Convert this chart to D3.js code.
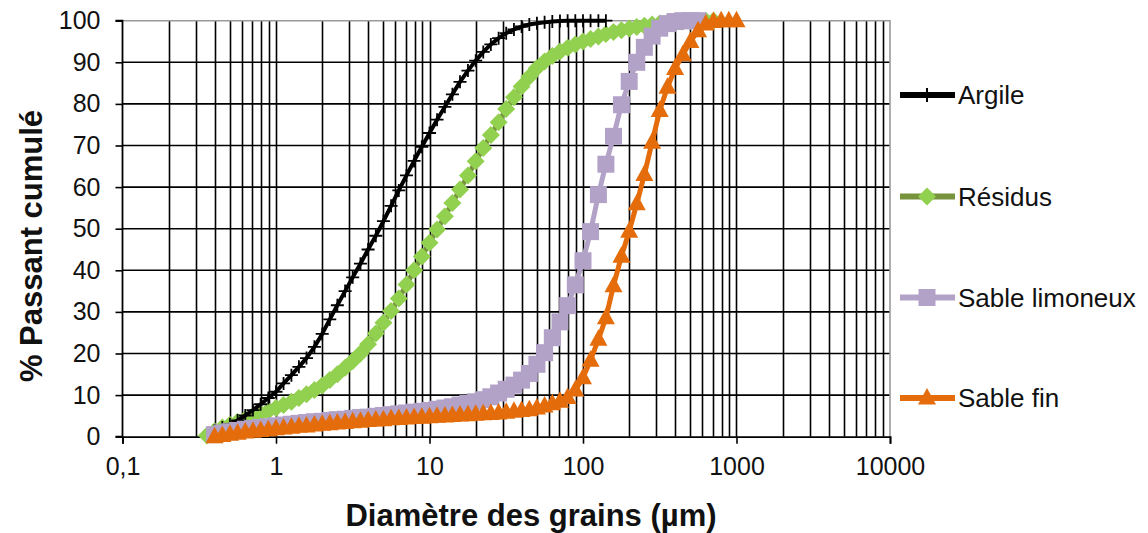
<!DOCTYPE html>
<html>
<head>
<meta charset="utf-8">
<script src="https://cdn.jsdelivr.net/npm/d3@7"></script>
<style>
  html, body { margin: 0; padding: 0; background: #fff; }
  svg { display: block; font-family: "Liberation Sans", Arial, sans-serif; }
</style>
</head>
<body>
<svg id="chart" width="1148" height="533"></svg>
<script>
// Diamètres des classes granulométriques (µm), 20 classes par décade
const diametres = [0.355, 0.398, 0.447, 0.501, 0.562, 0.631, 0.708, 0.794, 0.891,
  1, 1.12, 1.26, 1.41, 1.58, 1.78, 2, 2.24, 2.51, 2.82, 3.16, 3.55, 3.98, 4.47, 5.01,
  5.62, 6.31, 7.08, 7.94, 8.91, 10, 11.2, 12.6, 14.1, 15.8, 17.8, 20, 22.4, 25.1, 28.2,
  31.6, 35.5, 39.8, 44.7, 50.1, 56.2, 63.1, 70.8, 79.4, 89.1, 100, 112, 126, 141, 158,
  178, 200, 224, 251, 282, 316, 355, 398, 447, 501, 562, 631, 708, 794, 891, 1000];

// % passant cumulé pour chaque matériau (null = classe non mesurée)
const argile = [null,
  1.5, 2.2, 3.0, 3.9, 5.1, 6.4, 7.8, 9.3, 10.8, 12.8, 14.8, 16.8, 18.9, 21.6, 24.7,
  28.2, 31.6, 35.0, 38.3, 41.6, 45.0, 48.3, 51.8, 55.5, 59.2, 62.8, 66.3, 69.7, 73.0,
  76.2, 79.3, 82.3, 85.3, 88.0, 90.4, 92.5, 94.3, 95.8, 97.0, 97.9, 98.6, 99.1, 99.4,
  99.6, 99.8, 99.9, 100, 100, 100, 100, 100, 100,
  null, null, null, null, null, null, null, null, null, null, null, null, null, null,
  null, null, null];

const residus = [
  0.3, 1.3, 2.2, 2.9, 3.6, 4.2, 4.9, 5.5, 6.2, 6.9, 7.6, 8.4, 9.3, 10.2, 11.2, 12.3,
  13.6, 15.0, 16.6, 18.2, 20.0, 22.2, 24.8, 27.4, 30.2, 33.2, 36.6, 40.0, 43.3, 46.6,
  49.8, 53.0, 56.2, 59.4, 62.8, 66.2, 69.4, 72.5, 75.6, 78.8, 81.6, 84.2, 86.5, 88.6,
  90.2, 91.5, 92.6, 93.5, 94.3, 95.0, 95.6, 96.2, 96.8, 97.3, 97.7, 98.1, 98.5, 98.8,
  99.1, 99.3, 99.5, 99.7, 99.8, 99.9, 100, 100, 100,
  null, null, null];

const sableLimoneux = [null,
  0.5, 0.9, 1.2, 1.5, 1.8, 2.0, 2.2, 2.4, 2.6, 2.8, 3.0, 3.2, 3.4, 3.6, 3.7, 3.9, 4.1,
  4.2, 4.4, 4.6, 4.7, 4.9, 5.1, 5.3, 5.5, 5.7, 5.9, 6.1, 6.3, 6.6, 6.9, 7.2, 7.6, 8.0,
  8.4, 8.9, 9.6, 10.5, 11.4, 12.4, 13.6, 15.2, 17.4, 20.2, 23.8, 27.6, 31.5, 36.5,
  42.3, 49.3, 58.2, 65.5, 72.2, 79.8, 85.4, 90.0, 93.6, 96.3, 98.2, 99.3, 99.8, 100,
  100, 100,
  null, null, null, null, null];

const sableFin = [null,
  0.0, 0.3, 0.6, 0.8, 1.1, 1.3, 1.5, 1.7, 1.9, 2.1, 2.3, 2.5, 2.6, 2.8, 3.0, 3.1, 3.3,
  3.4, 3.6, 3.7, 3.9, 4.0, 4.1, 4.3, 4.4, 4.5, 4.6, 4.7, 4.8, 4.9, 5.0, 5.1, 5.2, 5.3,
  5.4, 5.5, 5.6, 5.7, 5.9, 6.1, 6.3, 6.5, 6.9, 7.4, 7.9, 8.5, 9.4, 11.2, 14.2, 18.4,
  23.4, 28.6, 36.3, 43.4, 49.4, 56.0, 63.0, 70.8, 78.4, 84.0, 88.5, 91.8, 95.0, 97.6,
  99.2, 99.8, 100, 100, 100];

const yTicks = [0, 10, 20, 30, 40, 50, 60, 70, 80, 90, 100];
const xTicks = [0.1, 1, 10, 100, 1000, 10000];
const xTickLabels = ["0,1", "1", "10", "100", "1000", "10000"];

// Marker shapes (Excel-like)
const markerPaths = {
  plus: "M-6.5,0H6.5M0,-6.5V6.5",
  diamond: "M0,-9L9,0L0,9L-9,0Z",
  square: "M-8.5,-8.5H8.5V8.5H-8.5Z",
  triangle: "M0,-10L9,6.5L-9,6.5Z"
};

const series = [
  { name: "Argile", values: argile, line: "#000000", fill: "#000000", marker: "plus", width: 4, order: 1 },
  { name: "Résidus", values: residus, line: "#77933C", fill: "#92D050", marker: "diamond", width: 5, order: 0 },
  { name: "Sable limoneux", values: sableLimoneux, line: "#B3A2C7", fill: "#B3A2C7", marker: "square", width: 5, order: 2 },
  { name: "Sable fin", values: sableFin, line: "#E46C0A", fill: "#E46C0A", marker: "triangle", width: 5, order: 3 }
];

const plot = { left: 122.5, right: 890, top: 20.7, bottom: 436.7 };
const x = d3.scaleLog().domain([0.1, 10000]).range([plot.left, plot.right]);
const y = d3.scaleLinear().domain([0, 100]).range([plot.bottom, plot.top]);

const svg = d3.select("#chart");

// Grid
const grid = svg.append("g").attr("stroke", "#000").attr("stroke-width", 1.6);
grid.selectAll("line.v")
  .data(x.ticks().filter(d => d > 0.1001 && d < 9999))
  .join("line")
  .attr("x1", d => Math.round(x(d)) + 0.5).attr("x2", d => Math.round(x(d)) + 0.5)
  .attr("y1", plot.top).attr("y2", plot.bottom);
grid.selectAll("line.h")
  .data(yTicks.filter(d => d > 0 && d < 100))
  .join("line")
  .attr("x1", plot.left).attr("x2", plot.right)
  .attr("y1", d => y(d)).attr("y2", d => y(d));

// Top and right border
svg.append("path")
  .attr("d", `M${plot.left},${plot.top}H${plot.right}V${plot.bottom}`)
  .attr("fill", "none").attr("stroke", "#9a9a9a").attr("stroke-width", 1.6);

// Axes
const yAxis = svg.append("g")
  .attr("transform", `translate(${plot.left},0)`)
  .call(d3.axisLeft(y).tickValues(yTicks).tickSize(7).tickPadding(15).tickFormat(d3.format("d")));
const xAxis = svg.append("g")
  .attr("transform", `translate(0,${plot.bottom})`)
  .call(d3.axisBottom(x).tickValues(xTicks).tickSize(7).tickPadding(13.5)
    .tickFormat((d, i) => xTickLabels[i]));
[yAxis, xAxis].forEach(a => {
  a.select(".domain").attr("stroke", "#000").attr("stroke-width", 1.8);
  a.selectAll(".tick line").attr("stroke", "#000").attr("stroke-width", 1.6);
  a.selectAll(".tick text").attr("fill", "#111").attr("font-size", 25)
    .attr("font-family", '"Liberation Sans", Arial, sans-serif');
});
yAxis.select(".domain").attr("d", `M-7,${plot.bottom}H0V${plot.top}H-7`);

// Axis titles
svg.append("text")
  .attr("x", 531).attr("y", 526)
  .attr("text-anchor", "middle").attr("font-size", 31).attr("font-weight", "bold")
  .attr("fill", "#111")
  .text("Diamètre des grains (µm)");
svg.append("text")
  .attr("transform", "translate(42,246) rotate(-90)")
  .attr("text-anchor", "middle").attr("font-size", 31).attr("font-weight", "bold")
  .attr("fill", "#111")
  .text("% Passant cumulé");

// Series
const line = d3.line()
  .defined(d => d.v != null)
  .x(d => x(d.d)).y(d => y(d.v));

const layer = svg.append("g");
series.slice().sort((a, b) => a.order - b.order).forEach(s => {
  const pts = diametres.map((d, i) => ({ d, v: s.values[i] }));
  const g = layer.append("g");
  g.append("path")
    .datum(pts)
    .attr("d", line)
    .attr("fill", "none").attr("stroke", s.line).attr("stroke-width", s.width)
    .attr("stroke-linejoin", "round");
  g.selectAll("path.m")
    .data(pts.filter(p => p.v != null))
    .join("path")
    .attr("class", "m")
    .attr("transform", p => `translate(${x(p.d)},${y(p.v)})`)
    .attr("d", markerPaths[s.marker])
    .attr("fill", s.marker === "plus" ? "none" : s.fill)
    .attr("stroke", s.marker === "plus" ? s.fill : "none")
    .attr("stroke-width", 1.8);
});

// Legend
const legendY = [95, 196.5, 297.5, 398];
const legend = svg.append("g");
series.forEach((s, i) => {
  const g = legend.append("g").attr("transform", `translate(0,${legendY[i]})`);
  g.append("line").attr("x1", 900).attr("x2", 955).attr("y1", 0).attr("y2", 0)
    .attr("stroke", s.line).attr("stroke-width", 6);
  g.append("path")
    .attr("transform", "translate(927,0)")
    .attr("d", s.marker === "plus" ? "M-7,0H7M0,-7V7" : markerPaths[s.marker])
    .attr("fill", s.marker === "plus" ? "none" : s.fill)
    .attr("stroke", s.marker === "plus" ? s.fill : "none")
    .attr("stroke-width", 2);
  g.append("text").attr("x", 958).attr("y", 9)
    .attr("font-size", 26).attr("fill", "#111")
    .text(s.name);
});
</script>
</body>
</html>
